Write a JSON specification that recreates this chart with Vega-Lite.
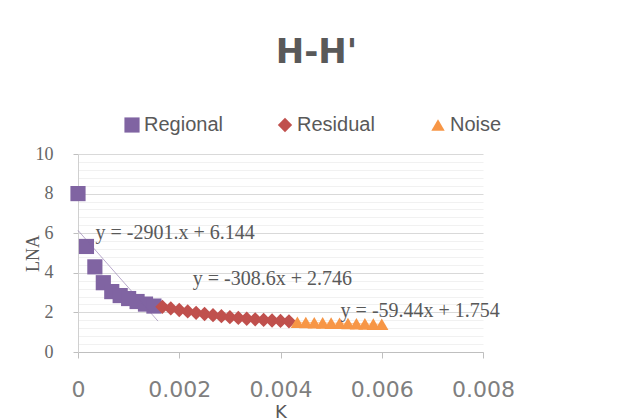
{
  "$schema": "https://vega.github.io/schema/vega-lite/v6.json",
  "width": 405,
  "height": 198,
  "autosize": "none",
  "padding": {"left": 78, "top": 154, "right": 145, "bottom": 66},
  "background": "white",
  "view": {"stroke": null},
  "title": {"text": "H-H'", "font": "DejaVu Sans", "fontSize": 34, "fontWeight": "bold", "color": "#595959", "anchor": "middle", "dx": 36, "offset": 18, "baseline": "alphabetic"},
  "datasets": {
    "pts": [
      {"K": 0, "LNA": 8.0, "series": "Regional"},
      {"K": 0.000167, "LNA": 5.33, "series": "Regional"},
      {"K": 0.000333, "LNA": 4.3, "series": "Regional"},
      {"K": 0.0005, "LNA": 3.5, "series": "Regional"},
      {"K": 0.000667, "LNA": 3.05, "series": "Regional"},
      {"K": 0.000833, "LNA": 2.85, "series": "Regional"},
      {"K": 0.001, "LNA": 2.7, "series": "Regional"},
      {"K": 0.001167, "LNA": 2.55, "series": "Regional"},
      {"K": 0.001333, "LNA": 2.42, "series": "Regional"},
      {"K": 0.0015, "LNA": 2.32, "series": "Regional"},
      {"K": 0.001667, "LNA": 2.28, "series": "Residual"},
      {"K": 0.001833, "LNA": 2.2, "series": "Residual"},
      {"K": 0.002, "LNA": 2.12, "series": "Residual"},
      {"K": 0.002167, "LNA": 2.05, "series": "Residual"},
      {"K": 0.002333, "LNA": 1.98, "series": "Residual"},
      {"K": 0.0025, "LNA": 1.92, "series": "Residual"},
      {"K": 0.002667, "LNA": 1.86, "series": "Residual"},
      {"K": 0.002833, "LNA": 1.81, "series": "Residual"},
      {"K": 0.003, "LNA": 1.76, "series": "Residual"},
      {"K": 0.003167, "LNA": 1.72, "series": "Residual"},
      {"K": 0.003333, "LNA": 1.68, "series": "Residual"},
      {"K": 0.0035, "LNA": 1.65, "series": "Residual"},
      {"K": 0.003667, "LNA": 1.62, "series": "Residual"},
      {"K": 0.003833, "LNA": 1.59, "series": "Residual"},
      {"K": 0.004, "LNA": 1.57, "series": "Residual"},
      {"K": 0.004167, "LNA": 1.55, "series": "Residual"},
      {"K": 0.004333, "LNA": 1.5, "series": "Noise"},
      {"K": 0.0045, "LNA": 1.49, "series": "Noise"},
      {"K": 0.004667, "LNA": 1.48, "series": "Noise"},
      {"K": 0.004833, "LNA": 1.47, "series": "Noise"},
      {"K": 0.005, "LNA": 1.46, "series": "Noise"},
      {"K": 0.005167, "LNA": 1.45, "series": "Noise"},
      {"K": 0.005333, "LNA": 1.44, "series": "Noise"},
      {"K": 0.0055, "LNA": 1.43, "series": "Noise"},
      {"K": 0.005667, "LNA": 1.42, "series": "Noise"},
      {"K": 0.005833, "LNA": 1.41, "series": "Noise"},
      {"K": 0.006, "LNA": 1.4, "series": "Noise"}
    ],
    "trend": [
      {"K": 0, "LNA": 6.14, "series": "Regional"},
      {"K": 0.00158, "LNA": 1.56, "series": "Regional"},
      {"K": 0.001667, "LNA": 2.23, "series": "Residual"},
      {"K": 0.004167, "LNA": 1.46, "series": "Residual"},
      {"K": 0.004333, "LNA": 1.5, "series": "Noise"},
      {"K": 0.006, "LNA": 1.4, "series": "Noise"}
    ],
    "labels": [
      {"K": 0.00192, "LNA": 6.0, "text": "y = -2901.x + 6.144"},
      {"K": 0.00384, "LNA": 3.7, "text": "y = -308.6x + 2.746"},
      {"K": 0.00676, "LNA": 2.07, "text": "y = -59.44x + 1.754"}
    ]
  },
  "encoding": {
    "x": {
      "field": "K", "type": "quantitative",
      "scale": {"domain": [0, 0.008], "nice": false, "zero": false},
      "axis": {
        "values": [0, 0.002, 0.004, 0.006, 0.008],
        "format": ".3~f",
        "grid": false,
        "domainColor": "#bfbfbf",
        "tickColor": "#bfbfbf",
        "tickSize": 6,
        "labelFont": "DejaVu Sans",
        "labelFontSize": 22,
        "labelColor": "#7f7f7f",
        "labelPadding": 21,
        "labelFlush": false,
        "title": "K",
        "titleFont": "DejaVu Sans",
        "titleFontSize": 18,
        "titleFontWeight": "normal",
        "titleColor": "#595959",
        "titleBaseline": "alphabetic",
        "titleY": 65
      }
    },
    "y": {
      "field": "LNA", "type": "quantitative",
      "scale": {"domain": [0, 10], "nice": false},
      "axis": {
        "values": [0, 0.4, 0.8, 1.2, 1.6, 2, 2.4, 2.8, 3.2, 3.6, 4, 4.4, 4.8, 5.2, 5.6, 6, 6.4, 6.8, 7.2, 7.6, 8, 8.4, 8.8, 9.2, 9.6, 10],
        "format": "~g",
        "labelExpr": "datum.value % 2 === 0 ? datum.label : ''",
        "grid": true,
        "gridColor": {"condition": {"test": "datum.value % 2 === 0", "value": "#d9d9d9"}, "value": "#f1f1f1"},
        "tickColor": {"condition": {"test": "datum.value % 2 === 0", "value": "#bfbfbf"}, "value": "transparent"},
        "domainColor": "#d0d0d0",
        "tickSize": 5,
        "labelFont": "Liberation Serif",
        "labelFontSize": 18,
        "labelColor": "#666666",
        "labelPadding": 20,
        "labelFlush": false,
        "title": "LNA",
        "titleFont": "Liberation Serif",
        "titleFontSize": 18,
        "titleFontWeight": "normal",
        "titleColor": "#595959",
        "titleX": -45,
        "titleY": 99,
        "titleAlign": "center",
        "titleBaseline": "middle"
      }
    }
  },
  "layer": [
    {
      "data": {"name": "pts"},
      "mark": {"type": "point", "filled": true, "opacity": 1, "strokeWidth": 0},
      "encoding": {
        "color": {"field": "series", "type": "nominal", "scale": {"domain": ["Regional", "Residual", "Noise"], "range": ["#8064A2", "#C0504D", "#F79646"]},
          "legend": {"orient": "none", "legendX": 44, "legendY": -39, "direction": "horizontal", "labelFont": "Liberation Sans", "labelFontSize": 20, "labelColor": "#595959", "labelOffset": 2, "title": null, "padding": 0, "symbolSize": 180, "symbolStrokeWidth": 0, "columnPadding": 52, "gridAlign": "all", "columns": 3}},
        "shape": {"field": "series", "type": "nominal", "scale": {"domain": ["Regional", "Residual", "Noise"], "range": ["square", "diamond", "triangle-up"]}},
        "size": {"field": "series", "type": "nominal", "scale": {"domain": ["Regional", "Residual", "Noise"], "range": [230, 180, 140]}, "legend": null}
      }
    },
    {
      "data": {"name": "trend"},
      "mark": {"type": "line", "strokeWidth": 1, "opacity": 0.55},
      "encoding": {
        "color": {"field": "series", "type": "nominal", "scale": {"domain": ["Regional", "Residual", "Noise"], "range": ["#8064A2", "#C0504D", "#F79646"]}},
        "detail": {"field": "series"}
      }
    },
    {
      "data": {"name": "labels"},
      "mark": {"type": "text", "font": "Liberation Serif", "fontSize": 20, "color": "#595959", "align": "center", "baseline": "middle"},
      "encoding": {"text": {"field": "text"}}
    }
  ]
}
